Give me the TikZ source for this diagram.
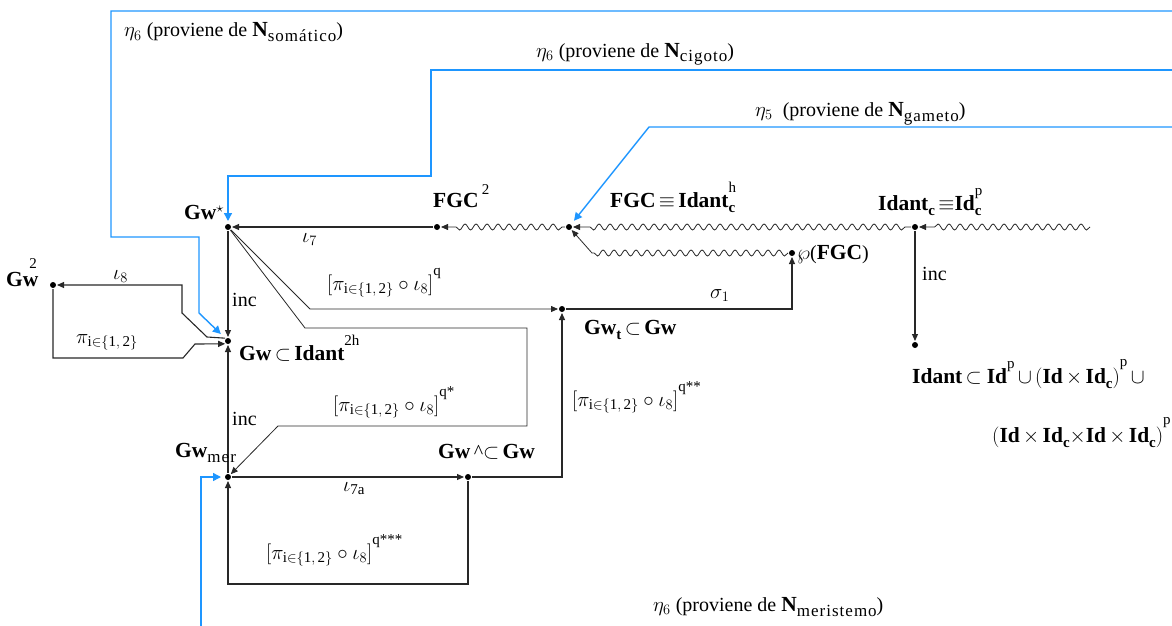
\documentclass[tikz,border=0pt]{standalone}
\usepackage{fontspec}
\setmainfont{Liberation Serif}
\newfontfamily\subfont[LetterSpace=6]{Liberation Serif}
\usetikzlibrary{arrows.meta,decorations.pathmorphing}
\DeclareMathSizes{20}{20}{15}{12}
\newcommand{\tb}[1]{{\fontsize{21.5}{25}\selectfont\bfseries #1}}
\newcommand{\dnb}[1]{\raisebox{-5pt}{\fontsize{15}{15}\selectfont\bfseries #1}}
\newcommand{\dnx}[1]{\raisebox{-5pt}{\fontsize{17}{17}\selectfont\subfont #1}}
\newcommand{\upx}[2]{\raisebox{#1}{\fontsize{15}{15}\selectfont #2}}
\newcommand{\comp}[1]{$\bigl[\pi_{\mathrm{i\in\{1,\,2\}}}\circ\iota_{8}\bigr]^{\raisebox{5pt}{\fontsize{15}{15}\selectfont #1}}$}
\definecolor{lblue}{RGB}{30,150,255}
\definecolor{ink}{RGB}{40,40,40}
\begin{document}
\begin{tikzpicture}[x=1pt,y=-1pt,
  every node/.style={font=\fontsize{20}{24}\selectfont, text=black},
  dot/.style={circle, fill=black, draw=none, inner sep=0pt, minimum size=6pt, outer sep=1pt},
  lbl/.style={anchor=base west, inner sep=0pt},
  arr/.style={draw=ink, line width=1.1pt, -{Triangle[length=7pt,width=6pt]}},
  thin arr/.style={draw=ink, line width=0.8pt, -{Triangle[length=7pt,width=6pt]}},
  barr/.style={draw=lblue, line width=1.4pt, -{Triangle[length=8pt,width=8pt]}},
  wavy/.style={decorate, decoration={snake, amplitude=3pt, segment length=11pt, pre length=#1, post length=12pt}},
  wavy/.default=2pt]
\useasboundingbox (0,0) rectangle (1172,626);

% dots
\node[dot] (gws) at (228,227) {};
\node[dot] (gwi) at (228,341) {};
\node[dot] (gwm) at (228,477) {};
\node[dot] (gw2) at (53,285) {};
\node[dot] (fgc2) at (437,227) {};
\node[dot] (fgc) at (569,227) {};
\node[dot] (idc) at (915,227) {};
\node[dot] (pfgc) at (792,253) {};
\node[dot] (idant) at (915,345) {};
\node[dot] (gwt) at (562,309) {};
\node[dot] (gwh) at (468,477) {};

% free ends
\coordinate (wend) at (1090,227);
\coordinate (wb) at (592,253);
\coordinate (bs1) at (1172,11);
\coordinate (bs2) at (1172,70);
\coordinate (bs3) at (1172,127);
\coordinate (bs4) at (201,626);

% wavy connectors
\draw[arr, line width=0.8pt, wavy=0pt] (wend) -- (idc);
\draw[arr, line width=0.8pt, wavy=6pt] (idc) -- (fgc);
\draw[arr, line width=0.8pt, wavy=3pt] (fgc) -- (fgc2);
\draw[arr, line width=0.8pt] (pfgc.west) decorate[decoration={snake, amplitude=3pt, segment length=11pt}] {-- (wb)} -- (fgc);

% straight connectors
\draw[arr] (fgc2) -- (gws);
\draw[arr] (gws) -- (gwi);
\draw[thin arr] (gws) -- (310,309) -- (gwt);
\draw[thin arr] (gws) -- (305,328) -- (527,328) -- (527,426) -- (278,426) -- (gwm);
\draw[arr] (gwm) -- (gwi);
\draw[arr] (gwm) -- (gwh);
\draw[arr] (gwh) -- (468,584) -- (228,584) -- (gwm);
\draw[arr] (gwh) -- (gwt |- gwh) -- (gwt);
\draw[arr] (gwt) -- (pfgc |- gwt) -- (pfgc);
\draw[arr] (idc) -- (idant);
\draw[arr] (gwi.north west) -- (207,337) -- (182,313) -- (182,285) -- (gw2);
\draw[arr] (gw2) -- (53,358) -- (183,358) -- (195,344) -- (gwi.south west);

% blue connectors
\draw[barr, shorten >=6pt] (bs1) -- (111,11) -- (111,237) -- (199,237) -- (199,313) -- (gwi.north west);
\draw[barr, shorten >=2pt] (bs2) -- (431,70) -- (431,176) -| (gws);
\draw[barr, shorten >=4pt] (bs3) -- (649,127) -- (fgc);
\draw[barr, shorten >=3pt] (bs4) |- (gwm);

% node labels
\node[lbl] (lgws) at (184,219) {\tb{Gw}\upx{7pt}{$\star$}};
\node[lbl] (lgw2) at (6,286) {\tb{Gw}\kern-9pt\upx{18pt}{2}};
\node[lbl] (lgwi) at (239,360) {\tb{Gw}\,$\subset$\,\tb{Idant}\upx{15pt}{2h}};
\node[lbl] (lgwm) at (175,457) {\tb{Gw}\dnx{mer}};
\node[lbl] (lfgc2) at (433,207) {\tb{FGC}\,\upx{13pt}{2}};
\node[lbl] (lfgc) at (610,207) {\tb{FGC}\,$\equiv$\,\tb{Idant}\rlap{\dnb{c}}\upx{15pt}{h}};
\node[lbl] (lidc) at (878,210) {\tb{Idant}\dnb{c}\,$\equiv$\tb{Id}\rlap{\dnb{c}}\upx{15pt}{p}};
\node[lbl] (lpfgc) at (797,259) {$\wp$(\tb{FGC})};
\node[lbl] (lgwt) at (584,334) {\tb{Gw}\dnb{t}\,$\subset$\,\tb{Gw}};
\node[lbl] (lgwh) at (438,458) {\tb{Gw}\,\textasciicircum$\subset$\,\tb{Gw}};
\node[lbl] (lid1) at (912,383) {\tb{Idant}\,$\subset$\ \tb{Id}\upx{15pt}{p}\,$\cup$\,$\left(\mbox{\tb{Id}\,$\times$\,\tb{Id}\dnb{c}}\right)$\upx{17pt}{p}\,$\cup$};
\node[lbl] (lid2) at (992,442) {$\left(\mbox{\tb{Id}\,$\times$\,\tb{Id}\dnb{c}$\times$\tb{Id}\,$\times$\,\tb{Id}\dnb{c}}\right)$\upx{18pt}{p}};

% edge labels
\node[lbl] (l7) at (302,242) {$\iota_7$};
\node[lbl] (lq) at (327,290) {\comp{q}};
\node[lbl] (linc1) at (232,306) {inc};
\node[lbl] (l8) at (113,279) {$\iota_8$};
\node[lbl] (lpi) at (76,343) {$\pi_{\mathrm{i\in\{1,\,2\}}}$};
\node[lbl] (lq1) at (333,411) {\comp{q*}};
\node[lbl] (linc2) at (232,425) {inc};
\node[lbl] (lq2) at (572,406) {\comp{q**}};
\node[lbl] (ls1) at (710,298) {$\sigma_1$};
\node[lbl] (linc3) at (922,280) {inc};
\node[lbl] (l7a) at (343,491) {$\iota_{\mathrm{7a}}$};
\node[lbl] (lq3) at (266,559) {\comp{q***}};

% eta labels
\node[lbl] (le1) at (124,37) {$\eta_6$ (proviene de \tb{N}\dnx{somático})};
\node[lbl] (le2) at (536,57) {$\eta_6$ (proviene de \tb{N}\dnx{cigoto})};
\node[lbl] (le3) at (755,116) {$\eta_5$\ \ (proviene de \tb{N}\dnx{gameto})};
\node[lbl] (le4) at (653,611) {$\eta_6$ (proviene de \tb{N}\dnx{meristemo})};
\end{tikzpicture}
\end{document}
